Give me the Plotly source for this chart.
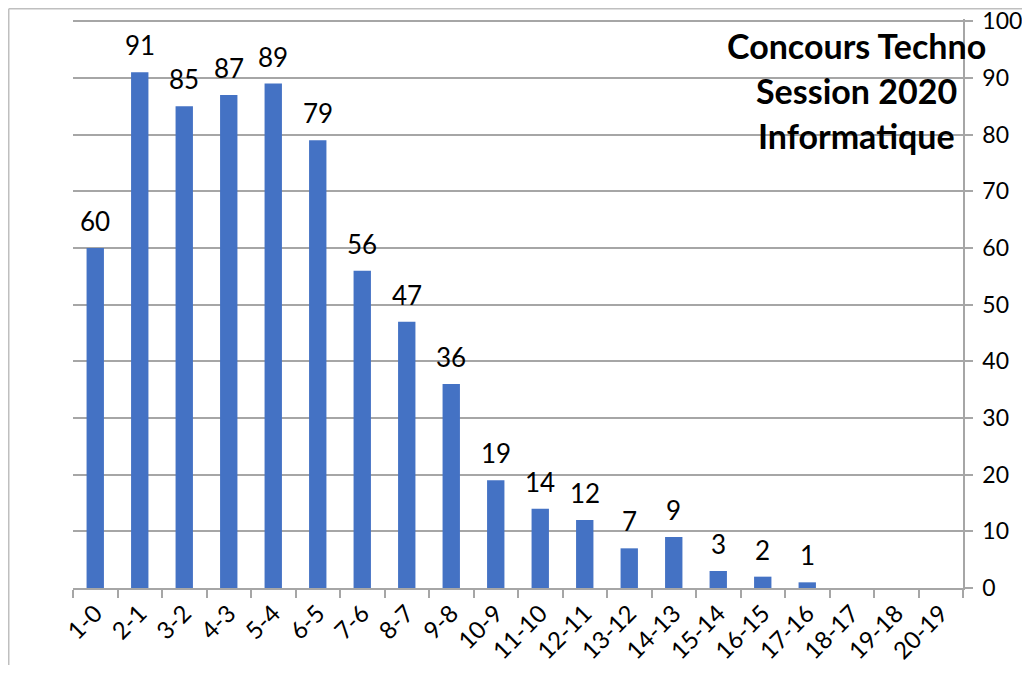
import plotly.graph_objects as go

# écarts de notes (catégories) et effectifs
categories = ['1-0', '2-1', '3-2', '4-3', '5-4', '6-5', '7-6', '8-7', '9-8', '10-9',
              '11-10', '12-11', '13-12', '14-13', '15-14', '16-15', '17-16',
              '18-17', '19-18', '20-19']
counts = [60, 91, 85, 87, 89, 79, 56, 47, 36, 19, 14, 12, 7, 9, 3, 2, 1,
          None, None, None]
title_lines = ['Concours Techno', 'Session 2020', 'Informatique']
y_ticks = list(range(0, 101, 10))
y_max = 100.4  # a hair above 100 so plotly keeps the top gridline

BAR_COLOR = '#4472C4'
GRID = '#A6A6A6'
FONT = 'Lato'

# the page body has an 8px margin, so the figure starts at (8, 8) on screen
OFF = 8
W, H = 1030 - OFF, 673 - OFF - 8
# plot area in screen pixels: x 73..963, y 19..588 (value 100 at ~21)
L, R, T, B = 73 - OFF, 963 - OFF, 19 - OFF, 588 - OFF


def px_to_paper(x, y):
    # screen pixels -> paper coords
    x, y = x - OFF, y - OFF
    return (x - L) / (R - L), (B - y) / (B - T)


fig = go.Figure()
fig.add_trace(go.Bar(
    x=categories,
    y=counts,
    marker=dict(color=BAR_COLOR, line=dict(width=0)),
    width=0.39,
    hoverinfo='x+y',
))

# data labels above each bar
annotations = []
for cat, val in zip(categories, counts):
    if val is None:
        continue
    annotations.append(dict(
        x=cat, y=val, xref='x', yref='y',
        text=str(val), showarrow=False,
        yanchor='bottom', yshift=9,
        font=dict(family=FONT, size=26, color='#000000'),
    ))

# title block, centred, top right of the chart
title_y = [45, 91, 136]
for line, ty in zip(title_lines, title_y):
    px_, py_ = px_to_paper(856, ty)
    annotations.append(dict(
        x=px_, y=py_, xref='paper', yref='paper',
        text='<b>' + line + '</b>', showarrow=False,
        xanchor='center', yanchor='middle',
        font=dict(family=FONT, size=34, color='#000000'),
    ))

# chart border (left and top edges visible)
bx0, by1 = px_to_paper(OFF + 0.75, OFF + 0.75)
bx1, by0 = px_to_paper(1040, 690)
shapes = [
    dict(type='line', xref='paper', yref='paper', x0=bx0, x1=bx0, y0=by0, y1=by1,
         line=dict(color='#BFBFBF', width=1.5)),
    dict(type='line', xref='paper', yref='paper', x0=bx0, x1=bx1, y0=by1, y1=by1,
         line=dict(color='#BFBFBF', width=1.5)),
]

fig.update_layout(
    width=W, height=H,
    margin=dict(l=L, r=W - R, t=T, b=H - B, autoexpand=False),
    paper_bgcolor='white',
    plot_bgcolor='white',
    showlegend=False,
    annotations=annotations,
    shapes=shapes,
    font=dict(family=FONT, color='#000000'),
)

fig.update_xaxes(
    type='category', automargin=False,
    categoryorder='array', categoryarray=categories,
    showline=True, linecolor=GRID, linewidth=1.5,
    ticks='outside', tickson='boundaries', ticklen=8, tickcolor=GRID, tickwidth=1.5,
    tickangle=-45,
    tickfont=dict(family=FONT, size=24, color='#000000'),
    showgrid=False, zeroline=False,
)

fig.update_yaxes(
    side='right', automargin=False,
    range=[0, y_max], tickvals=y_ticks,
    showline=True, linecolor=GRID, linewidth=1.5,
    ticks='outside', ticklen=8, tickcolor=GRID, tickwidth=1.5,
    ticklabelstandoff=5, ticklabeloverflow='allow',
    tickfont=dict(family=FONT, size=23, color='#000000'),
    showgrid=True, gridcolor=GRID, gridwidth=1.5,
    zeroline=False,
)

fig.write_html('out.html')
